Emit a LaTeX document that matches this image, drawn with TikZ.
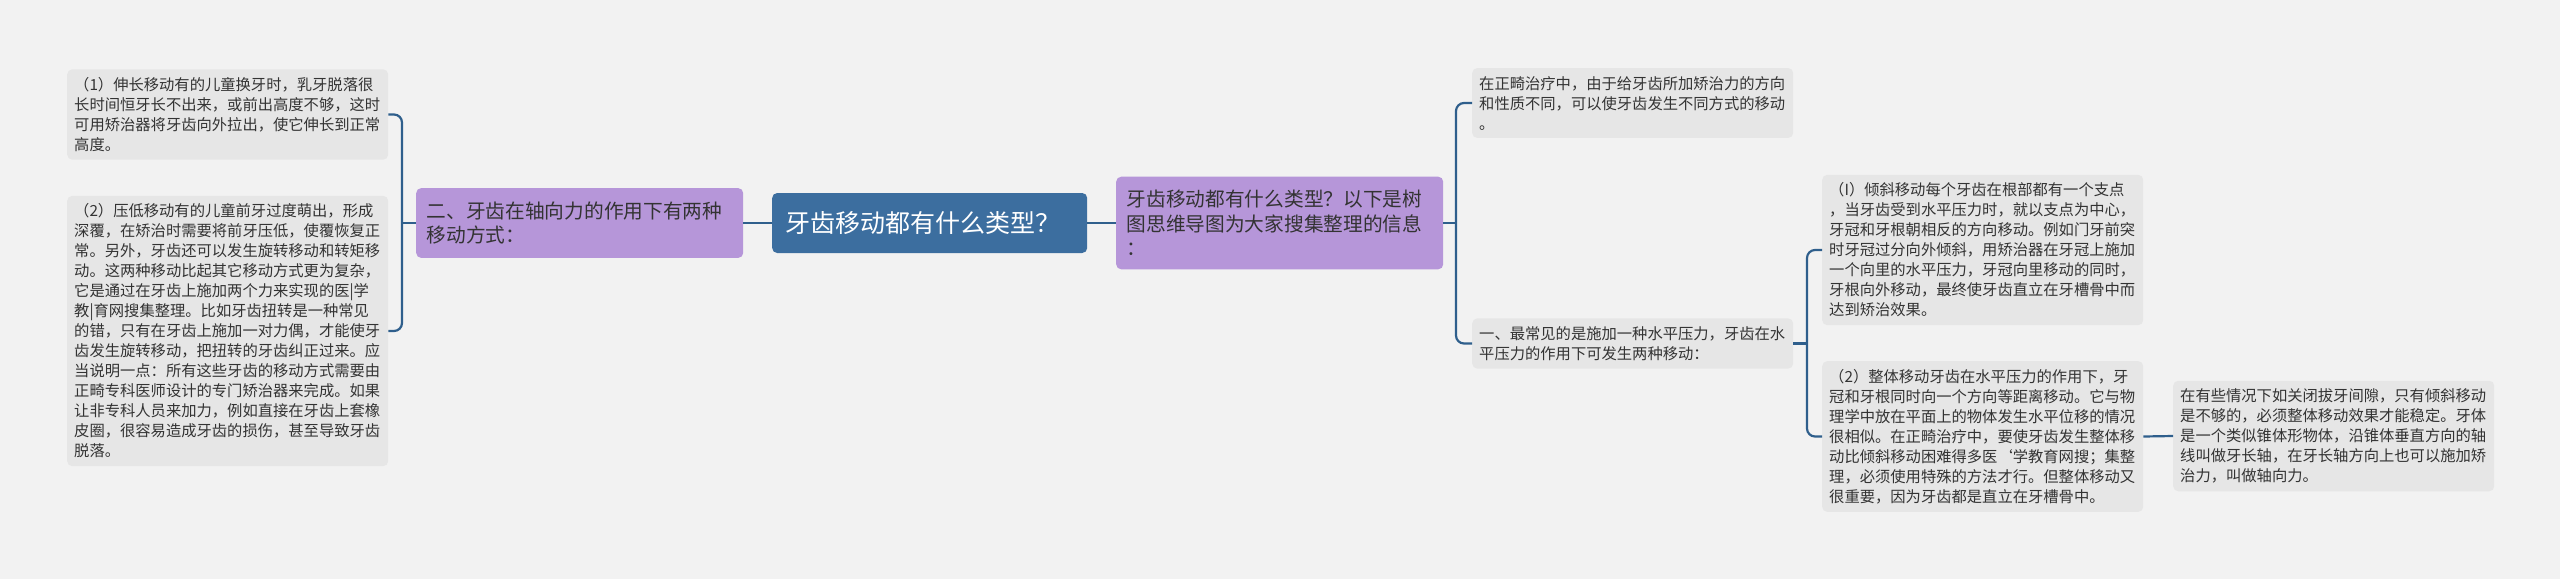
\documentclass[tikz,border=0pt]{standalone}
\usepackage{fontspec}
\setmainfont{Noto Sans CJK SC}
\definecolor{bgcol}{HTML}{F2F2F2}
\definecolor{leafcol}{HTML}{E6E6E6}
\definecolor{subcol}{HTML}{B696D9}
\definecolor{rootcol}{HTML}{3C6E9F}
\definecolor{linkcol}{HTML}{2F5F8C}
\definecolor{txtcol}{HTML}{333333}
\begin{document}
\begin{tikzpicture}[x=1pt,y=-1pt,
  leaf/.style={fill=leafcol,rounded corners=5pt,text=txtcol,anchor=west,text width=307pt,
    align=left,inner xsep=7pt,inner ysep=8pt,font=\fontsize{15.3}{20}\selectfont},
  sub/.style={fill=subcol,rounded corners=5pt,text=txtcol,anchor=west,text width=306pt,
    align=left,inner xsep=10.5pt,inner ysep=13.5pt,font=\fontsize{19.7}{24.5}\selectfont},
  topic/.style={fill=rootcol,rounded corners=5pt,text=white,anchor=west,text width=289pt,
    align=left,inner xsep=13pt,minimum height=60pt,font=\fontsize{25}{30}\selectfont},
  link/.style={draw=linkcol,line width=2.2pt,rounded corners=8pt}]
\path[use as bounding box,fill=bgcol] (0,0) rectangle (2560,579);

\node[topic] (root) at (772,223) {牙齿移动都有什么类型？};
\node[sub] (axial) at (416,223) {二、牙齿在轴向力的作用下有两种\\移动方式：};
\node[sub] (intro) at (1116,223) {牙齿移动都有什么类型？以下是树\\图思维导图为大家搜集整理的信息\\：};

\node[leaf] (stretch) at (67,114.5) {（1）伸长移动有的儿童换牙时，乳牙脱落很\\长时间恒牙长不出来，或前出高度不够，这时\\可用矫治器将牙齿向外拉出，使它伸长到正常\\高度。};
\node[leaf] (press) at (67,331) {（2）压低移动有的儿童前牙过度萌出，形成\\深覆，在矫治时需要将前牙压低，使覆恢复正\\常。另外，牙齿还可以发生旋转移动和转矩移\\动。这两种移动比起其它移动方式更为复杂，\\它是通过在牙齿上施加两个力来实现的医|学\\教|育网搜集整理。比如牙齿扭转是一种常见\\的错，只有在牙齿上施加一对力偶，才能使牙\\齿发生旋转移动，把扭转的牙齿纠正过来。应\\当说明一点：所有这些牙齿的移动方式需要由\\正畸专科医师设计的专门矫治器来完成。如果\\让非专科人员来加力，例如直接在牙齿上套橡\\皮圈，很容易造成牙齿的损伤，甚至导致牙齿\\脱落。};

\node[leaf] (ortho) at (1472,103) {在正畸治疗中，由于给牙齿所加矫治力的方向\\和性质不同，可以使牙齿发生不同方式的移动\\。};
\node[leaf] (horiz) at (1472,343.5) {一、最常见的是施加一种水平压力，牙齿在水\\平压力的作用下可发生两种移动：};
\node[leaf] (tilt) at (1822,250) {（I）倾斜移动每个牙齿在根部都有一个支点\\，当牙齿受到水平压力时，就以支点为中心，\\牙冠和牙根朝相反的方向移动。例如门牙前突\\时牙冠过分向外倾斜，用矫治器在牙冠上施加\\一个向里的水平压力，牙冠向里移动的同时，\\牙根向外移动，最终使牙齿直立在牙槽骨中而\\达到矫治效果。};
\node[leaf] (bodily) at (1822,436.5) {（2）整体移动牙齿在水平压力的作用下，牙\\冠和牙根同时向一个方向等距离移动。它与物\\理学中放在平面上的物体发生水平位移的情况\\很相似。在正畸治疗中，要使牙齿发生整体移\\动比倾斜移动困难得多医{\symbol{96}}学教育网搜；集整\\理，必须使用特殊的方法才行。但整体移动又\\很重要，因为牙齿都是直立在牙槽骨中。};
\node[leaf] (gap) at (2173,436) {在有些情况下如关闭拔牙间隙，只有倾斜移动\\是不够的，必须整体移动效果才能稳定。牙体\\是一个类似锥体形物体，沿锥体垂直方向的轴\\线叫做牙长轴，在牙长轴方向上也可以施加矫\\治力，叫做轴向力。};

\coordinate (jl) at (402,223);
\coordinate (jr) at (1456,223);
\coordinate (jh) at (1807,343.5);

\draw[link] (root.west) -- (axial.east);
\draw[link] (root.east) -- (intro.west);
\draw[link] (axial.west) -- (jl);
\draw[link] (stretch.east) -| (jl) |- (press.east);
\draw[link] (intro.east) -- (jr);
\draw[link] (ortho.west) -| (jr) |- (horiz.west);
\draw[link] (horiz.east) -- (jh);
\draw[link] (tilt.west) -| (jh) |- (bodily.west);
\draw[link] (bodily.east) -- (gap.west);
\end{tikzpicture}
\end{document}
